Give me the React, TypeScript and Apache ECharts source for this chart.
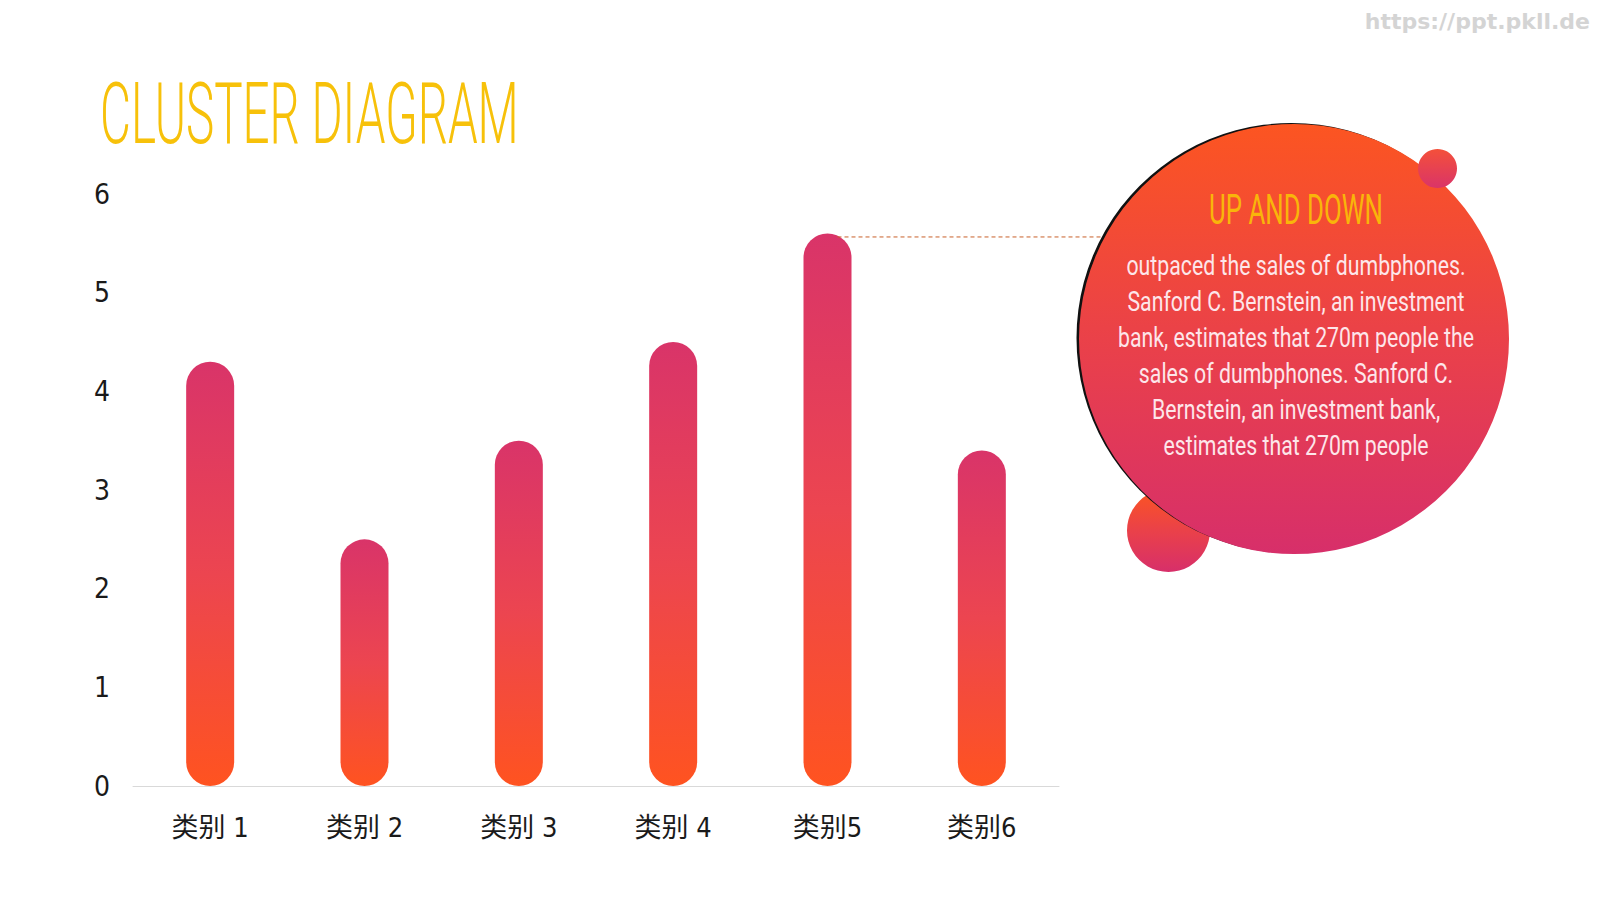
import React, { useEffect, useRef } from "react";
import * as echarts from "echarts";

const categories = ["类别1", "类别2", "类别3", "类别4", "类别5", "类别6"];
const categoryLabels = ["类别 1", "类别 2", "类别 3", "类别 4", "类别5", "类别6"];
const values = [4.3, 2.5, 3.5, 4.5, 5.6, 3.4];
const yMin = 0;
const yMax = 6;
const yInterval = 1;
const highlightIndex = 4;

const titleText = "CLUSTER DIAGRAM";
const noteTitle = "UP AND DOWN";
const noteLines = [
  "outpaced the sales of dumbphones.",
  "Sanford C. Bernstein, an investment",
  "bank, estimates that 270m people the",
  "sales of dumbphones. Sanford C.",
  "Bernstein, an investment bank,",
  "estimates that 270m people",
];
const watermark = "https://ppt.pkll.de";

const NARROW = '"DejaVu Sans Condensed", "Liberation Sans Narrow", "Noto Sans CJK SC", sans-serif';

export default function App() {
  const ref = useRef<HTMLDivElement>(null);

  useEffect(() => {
    if (!ref.current) return;
    const chart = echarts.init(ref.current, null, { renderer: "svg" });

    const barGradient = new echarts.graphic.LinearGradient(0, 0, 0, 1, [
      { offset: 0, color: "#D93469" },
      { offset: 0.5, color: "#EC4550" },
      { offset: 1, color: "#FF5320" },
    ]);
    const circleGradient = () =>
      new echarts.graphic.LinearGradient(0, 0, 0, 1, [
        { offset: 0, color: "#FC5521" },
        { offset: 0.5, color: "#EA4149" },
        { offset: 1, color: "#D72F6A" },
      ]);

    const cx = 1294;
    const cy = 339;
    const r = 215;

    const baseGraphics: any[] = [
      {
        type: "text",
        x: 1590,
        y: 21,
        z: 10,
        style: {
          text: watermark,
          fill: "#D4D4D4",
          font: 'bold 22px "DejaVu Sans", sans-serif',
          textAlign: "right",
          textVerticalAlign: "middle",
        },
      },
      {
        type: "text",
        x: 100,
        y: 114,
        scaleX: 0.553,
        z: 10,
        style: {
          text: titleText,
          fill: "#F7C10A",
          font: '300 86px "Roboto", sans-serif',
          textAlign: "left",
          textVerticalAlign: "middle",
        },
      },
      {
        type: "circle",
        z: 5,
        shape: { cx: 1168.5, cy: 530.5, r: 41.5 },
        style: { fill: circleGradient() },
      },
      {
        type: "circle",
        z: 6,
        shape: { cx: cx - 2.5, cy: cy - 1, r: r },
        style: { fill: "#111111" },
      },
      {
        type: "circle",
        z: 7,
        shape: { cx, cy, r },
        style: { fill: circleGradient() },
      },
      {
        type: "circle",
        z: 8,
        shape: { cx: 1437.5, cy: 168.5, r: 19.5 },
        style: {
          fill: new echarts.graphic.LinearGradient(0, 0, 0, 1, [
            { offset: 0, color: "#F4503A" },
            { offset: 1, color: "#DA3468" },
          ]),
        },
      },
      {
        type: "text",
        x: 1296,
        y: 209,
        scaleX: 0.6,
        z: 9,
        style: {
          text: noteTitle,
          fill: "#F9B50A",
          font: '43px "Roboto", sans-serif',
          textAlign: "center",
          textVerticalAlign: "middle",
        },
      },
      {
        type: "text",
        x: 1296,
        y: 355,
        scaleX: 0.76,
        z: 9,
        style: {
          text: noteLines.join("\n"),
          fill: "#FDE6EA",
          font: '28px "Roboto", sans-serif',
          lineHeight: 36,
          textAlign: "center",
          textVerticalAlign: "middle",
        },
      },
    ];

    chart.setOption({
      animation: false,
      backgroundColor: "#ffffff",
      grid: { left: 133, right: 541, top: 194, bottom: 114, containLabel: false },
      xAxis: {
        type: "category",
        data: categories,
        axisLine: { show: true, lineStyle: { color: "#D9D9D9", width: 1 } },
        axisTick: { show: false },
        axisLabel: {
          margin: 28,
          fontSize: 27,
          color: "#1a1a1a",
          fontFamily: NARROW,
          formatter: (v: string) => categoryLabels[categories.indexOf(v)] ?? v,
        },
      },
      yAxis: {
        type: "value",
        min: yMin,
        max: yMax,
        interval: yInterval,
        axisLine: { show: false },
        axisTick: { show: false },
        splitLine: { show: false },
        axisLabel: {
          margin: 31,
          align: "center",
          fontSize: 28,
          color: "#1a1a1a",
          fontFamily: NARROW,
        },
      },
      series: [
        {
          type: "bar",
          data: values,
          barWidth: 48,
          itemStyle: { color: barGradient, borderRadius: 24 },
        },
      ],
      graphic: baseGraphics,
    });

    const p = chart.convertToPixel({ gridIndex: 0 }, [categories[highlightIndex], values[highlightIndex]]) as number[];
    if (p) {
      chart.setOption({
        graphic: [
          ...baseGraphics,
          {
            type: "line",
            z: 4,
            shape: { x1: p[0] + 10, y1: p[1] + 3.5, x2: cx - 120, y2: p[1] + 3.5 },
            style: { stroke: "#C8602A", lineWidth: 1, lineDash: [4, 3] },
          },
        ],
      }, { replaceMerge: ["graphic"] });
    }

    return () => chart.dispose();
  }, []);

  return (
    <div
      ref={ref}
      style={{ position: "fixed", left: 0, top: 0, width: 1600, height: 900 }}
    />
  );
}
